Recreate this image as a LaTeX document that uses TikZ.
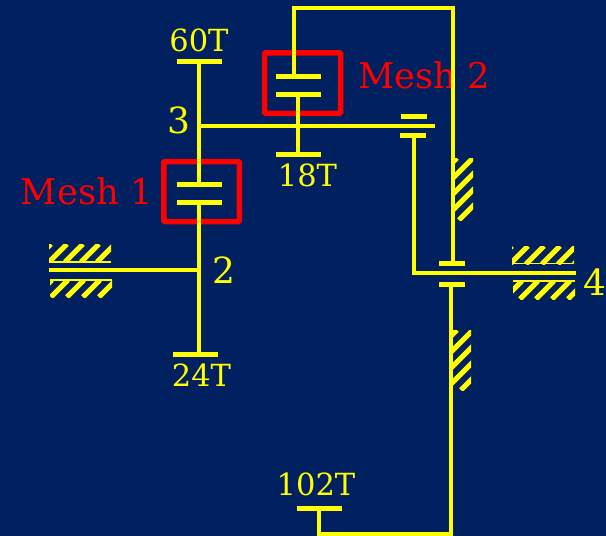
\documentclass[tikz,border=0pt]{standalone}
\usepackage{fontspec}
\setmainfont{DejaVu Serif}
\usetikzlibrary{positioning}
\definecolor{navybg}{RGB}{0,32,96}
\definecolor{gearyellow}{RGB}{255,255,0}
\tikzset{%
  shaft/.style = {draw=gearyellow,line width=4.5pt,line cap=butt},
  gearbar/.style = {rectangle,fill=gearyellow,inner sep=0pt,minimum height=5pt},
  bigbar/.style = {gearbar,minimum width=45pt},
  smallbar/.style = {gearbar,minimum width=26pt},
  meshbox/.style = {rectangle,draw=red,line width=5.5pt,rounded corners=1pt,inner sep=0pt},
  meshlabel/.style = {text=red,inner sep=0pt,font=\fontsize{35.4pt}{36pt}\selectfont},
  teeth/.style = {text=gearyellow,inner sep=0pt,font=\fontsize{30.5pt}{31pt}\selectfont},
  shaftno/.style = {text=gearyellow,inner sep=0pt,font=\fontsize{36pt}{36pt}\selectfont}
}
\newcommand{\hatchblock}[5]{%
  \begin{scope}
    \clip (#1,#2) rectangle ++(#3,#4);
    \foreach \k in {0,...,6} {
      \pgfmathsetmacro{\c}{#5+16*\k-#2}
      \draw[gearyellow,line width=5pt] (\c,#2) -- ++(-#4,#4);
    }
  \end{scope}}

\begin{document}
\begin{tikzpicture}[x=1pt,y=-1pt]
   \fill[navybg] (0,0) rectangle (606,536);
   \useasboundingbox (0,0) rectangle (606,536);
   % mesh boxes and labels
   \node[meshbox,minimum width=75.5pt,minimum height=60pt] (mesh-one) at (201.5,191.5) {};
   \node[meshbox,minimum width=76pt,minimum height=60.5pt] (mesh-two) at (302.5,83) {};
   \node[meshlabel,left=8pt of mesh-one] (mesh-one-text) {Mesh 1};
   \node[meshlabel,right=15pt of mesh-two,yshift=8pt] (mesh-two-text) {Mesh 2};
   % gear bars
   \node[bigbar] (sun-top) at (199,61) {};
   \node[bigbar] (mesh-one-up) at (199,184) {};
   \node[bigbar] (mesh-one-low) at (199,202) {};
   \node[bigbar] (sun-bottom) at (195.5,354) {};
   \node[bigbar] (mesh-two-up) at (298,76) {};
   \node[bigbar] (mesh-two-low) at (298,94) {};
   \node[bigbar] (planet-bottom) at (298,154) {};
   \node[smallbar] (arm-up) at (414,116) {};
   \node[smallbar] (arm-low) at (413,135) {};
   \node[smallbar] (ring-up) at (452,263) {};
   \node[smallbar] (ring-low) at (452,284) {};
   \node[bigbar] (ring-bottom) at (319.5,508) {};
   % free ends of the shafts
   \coordinate (in-end) at (49,270);
   \coordinate (in-joint) at (199,270);
   \coordinate (arm-joint) at (199,126);
   \coordinate (arm-end) at (435,126);
   \coordinate (out-corner) at (414,273);
   \coordinate (out-end) at (576,273);
   \coordinate (top-left) at (294,8);
   \coordinate (top-right) at (453,8);
   \coordinate (low-left) at (319,534);
   \coordinate (low-right) at (451,534);
   % shafts
   \draw[shaft] (sun-top.center) -- (mesh-one-up.center);
   \draw[shaft] (mesh-one-low.center) -- (199,354);
   \draw[shaft] (in-end) -- (in-joint);
   \draw[shaft] (arm-joint) -- (arm-end);
   \draw[shaft] (mesh-two-low.center) -- (planet-bottom.center);
   \draw[shaft] (arm-low.center -| out-corner) -- (out-corner) -- (out-end);
   \draw[shaft,line join=miter] (294,76) -- (top-left) -- (top-right) -- (453,263);
   \draw[shaft,line join=miter] (319,508) -- (low-left) -- (low-right) -- (451,284);
   % fixed supports
   \hatchblock{49}{244}{62}{18}{295}
   \hatchblock{50}{280}{62}{17}{332}
   \hatchblock{512}{246}{62}{18}{758}
   \hatchblock{513}{281}{62}{18}{803}
   \hatchblock{455}{158}{18}{62}{615}
   \hatchblock{453}{330}{18}{60}{787}
   \draw[gearyellow,line width=1.5pt] (49,262) -- (111,262);
   \draw[gearyellow,line width=1.5pt] (50,280) -- (112,280);
   \draw[gearyellow,line width=1.5pt] (512,263.5) -- (573,263.5);
   \draw[gearyellow,line width=1.5pt] (513,281) -- (575,281);
   % labels
   \node[teeth,above=6pt of sun-top] (sun-teeth) {60T};
   \node[teeth,below=6.5pt of planet-bottom,xshift=9.5pt] (planet-teeth) {18T};
   \node[teeth,below=6.5pt of sun-bottom,xshift=6pt] (ann-teeth) {24T};
   \node[teeth,above=9pt of ring-bottom,xshift=-3.5pt] (ring-teeth) {102T};
   \node[shaftno] (no-three) at (178.5,120) {3};
   \node[shaftno] (no-two) at (224,270) {2};
   \node[shaftno] (no-four) at (594.5,282) {4};
\end{tikzpicture}
\end{document}
